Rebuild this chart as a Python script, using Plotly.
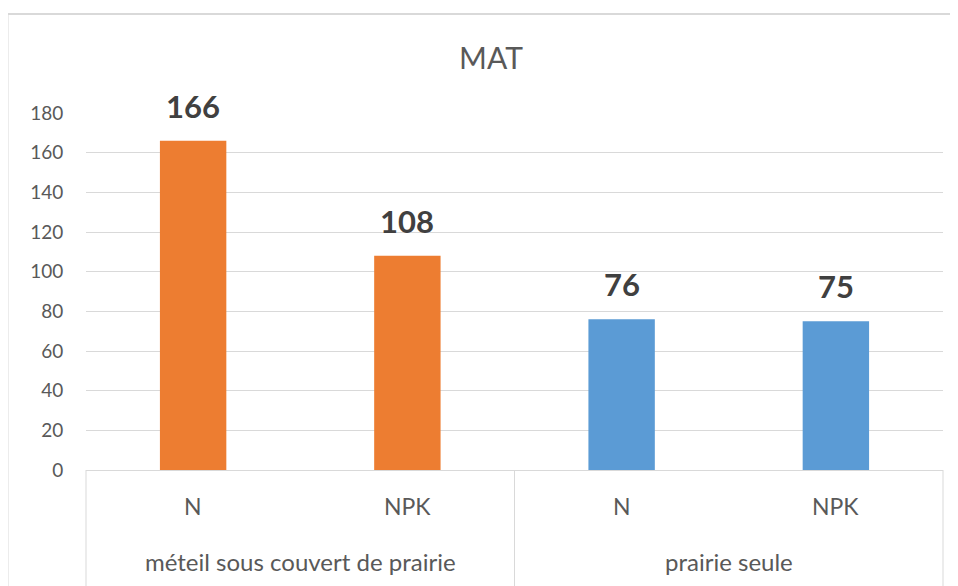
import plotly.graph_objects as go

groups = ["méteil sous couvert de prairie", "méteil sous couvert de prairie", "prairie seule", "prairie seule"]
treatments = ["N", "NPK", "N", "NPK"]
values = [166, 108, 76, 75]
colors = ["#ED7D31", "#ED7D31", "#5B9BD5", "#5B9BD5"]
y_ticks = [0, 20, 40, 60, 80, 100, 120, 140, 160, 180]

FONT = "Lato, 'Open Sans', sans-serif"
GRID = "#D9D9D9"
TXT = "#595959"

fig = go.Figure()
fig.add_trace(go.Bar(
    x=[groups, treatments],
    y=values,
    marker=dict(color=colors, line=dict(width=0)),
    width=0.31,
    hoverinfo="skip",
))

# value labels
for g, t, v in zip(groups, treatments, values):
    fig.add_annotation(
        x=[g, t], y=v, text=f"<b>{v}</b>",
        showarrow=False, yanchor="bottom", xanchor="center", yshift=14,
        font=dict(family=FONT, size=31, color="#404040"),
    )
    # sub-category label
    fig.add_annotation(
        x=[g, t], y=0, text=t, showarrow=False, yanchor="middle", xanchor="center", yshift=-36,
        font=dict(family=FONT, size=23, color=TXT),
    )

# group labels and dividers (derived from the group list)
n = len(groups)
uniq = list(dict.fromkeys(groups))
shapes = []
bounds = [0]
for ug in uniq:
    idx = [i for i, g in enumerate(groups) if g == ug]
    fig.add_annotation(
        xref="paper", x=(min(idx) + max(idx) + 1) / 2 / n, y=0, yref="y",
        text=ug, showarrow=False, yanchor="middle", xanchor="center", yshift=-91,
        font=dict(family=FONT, size=24, color=TXT),
    )
    bounds.append(max(idx) + 1)
for b in bounds:
    shapes.append(dict(type="line", xref="paper", yref="paper", x0=b / n, x1=b / n,
                       y0=0, y1=-0.4, line=dict(color=GRID, width=1)))

# outer chart frame
shapes.append(dict(type="rect", xref="paper", yref="paper",
                   x0=-78.5 / 857, x1=1.3, y0=(470 - 14) / 357, y1=-0.5,
                   line=dict(color=GRID, width=2), fillcolor="rgba(0,0,0,0)", layer="below"))

fig.update_layout(
    width=950, height=578,
    margin=dict(l=78, r=15, t=105, b=116, pad=0),
    paper_bgcolor="white", plot_bgcolor="white",
    showlegend=False,
    title=dict(text="MAT", x=0.5084, xanchor="center", y=1 - 50 / 578, yanchor="middle",
               yref="container", font=dict(family=FONT, size=30, color=TXT)),
    xaxis=dict(
        type="multicategory", automargin=False,
        showgrid=False, showticklabels=False, showdividers=False,
        showline=True, linecolor=GRID, linewidth=1,
        ticks="", fixedrange=True,
    ),
    yaxis=dict(
        range=[0, 180], tickvals=y_ticks, automargin=False,
        showgrid=True, gridcolor=GRID, gridwidth=1,
        zeroline=False, showline=False,
        ticks="outside", ticklen=18, tickcolor="rgba(0,0,0,0)",
        tickfont=dict(family=FONT, size=19, color=TXT),
        fixedrange=True,
    ),
    shapes=shapes,
)

fig.write_html("out.html")
